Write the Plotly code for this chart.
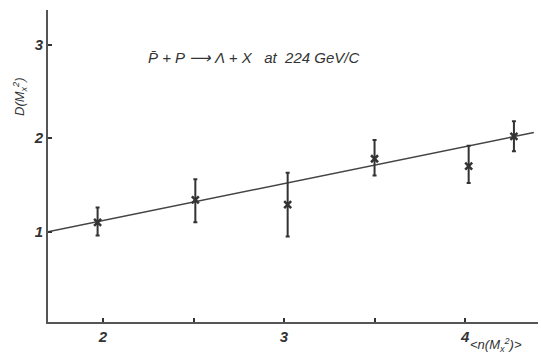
import plotly.graph_objects as go

# Data
n_mean = [1.97, 2.51, 3.02, 3.50, 4.02, 4.27]
D_vals = [1.10, 1.34, 1.29, 1.78, 1.70, 2.02]
err_up = [0.16, 0.22, 0.34, 0.20, 0.22, 0.16]
err_down = [0.14, 0.24, 0.34, 0.18, 0.18, 0.16]

fit_intercept = 0.33
fit_slope = 0.395
fit_x = [1.696, 4.38]
fit_y = [fit_intercept + fit_slope * x for x in fit_x]

x_tickvals = [2, 2.5, 3, 3.5, 4]
x_ticktext = ["2", "", "3", "", "4"]
y_tickvals = [1, 2, 3]
y_ticktext = ["1", "2", "3"]

ink = "#333333"
font_fam = "Liberation Sans, Arial, sans-serif"

fig = go.Figure()
fig.add_trace(go.Scatter(
    x=fit_x, y=fit_y, mode="lines",
    line=dict(color="#444444", width=1.5),
    showlegend=False, hoverinfo="skip"))
fig.add_trace(go.Scatter(
    x=n_mean, y=D_vals, mode="markers",
    marker=dict(symbol="x-thin", size=7, color=ink, line=dict(color=ink, width=2.5)),
    error_y=dict(type="data", symmetric=False, array=err_up, arrayminus=err_down,
                 color=ink, thickness=2, width=2),
    showlegend=False))

tickfont = dict(family=font_fam, size=15, color=ink, style="italic", weight="bold")

fig.update_layout(
    width=541, height=357,
    margin=dict(l=48, r=3, t=10, b=35),
    paper_bgcolor="white", plot_bgcolor="white",
    xaxis=dict(range=[1.696, 4.403], tickvals=x_tickvals, ticktext=x_ticktext,
               showgrid=False, zeroline=False, showline=True, linecolor="#555555",
               linewidth=2, ticks="inside", ticklen=4, tickwidth=2, tickcolor=ink,
               tickfont=tickfont),
    yaxis=dict(range=[0.035, 3.37], tickvals=y_tickvals, ticktext=y_ticktext,
               showgrid=False, zeroline=False, showline=True, linecolor="#555555",
               linewidth=2, ticks="inside", ticklen=4, tickwidth=1.5, tickcolor=ink,
               tickfont=tickfont),
    annotations=[
        dict(text="P\u0304 + P \u27f6 \u039b + X   at  224 GeV/C", xref="paper", yref="paper",
             x=(146 - 48) / 490, y=(322 - 57) / 312, xanchor="left", yanchor="middle",
             showarrow=False,
             font=dict(family=font_fam, size=15, color=ink, style="italic")),
        dict(text="D(M<sub>x</sub><sup>2</sup>)", xref="paper", yref="paper",
             x=(20 - 48) / 490, y=(322 - 97) / 312, xanchor="center", yanchor="middle",
             textangle=-90, showarrow=False,
             font=dict(family=font_fam, size=13, color=ink, style="italic")),
        dict(text="&lt;n(M<sub>x</sub><sup>2</sup>)&gt;", xref="paper", yref="paper",
             x=(468 - 48) / 490, y=(322 - 356) / 312, xanchor="left", yanchor="bottom",
             showarrow=False,
             font=dict(family=font_fam, size=13, color=ink, style="italic")),
    ],
)

fig.write_html("out.html", config={"displayModeBar": False},
               post_script="document.body.style.margin='0';")
